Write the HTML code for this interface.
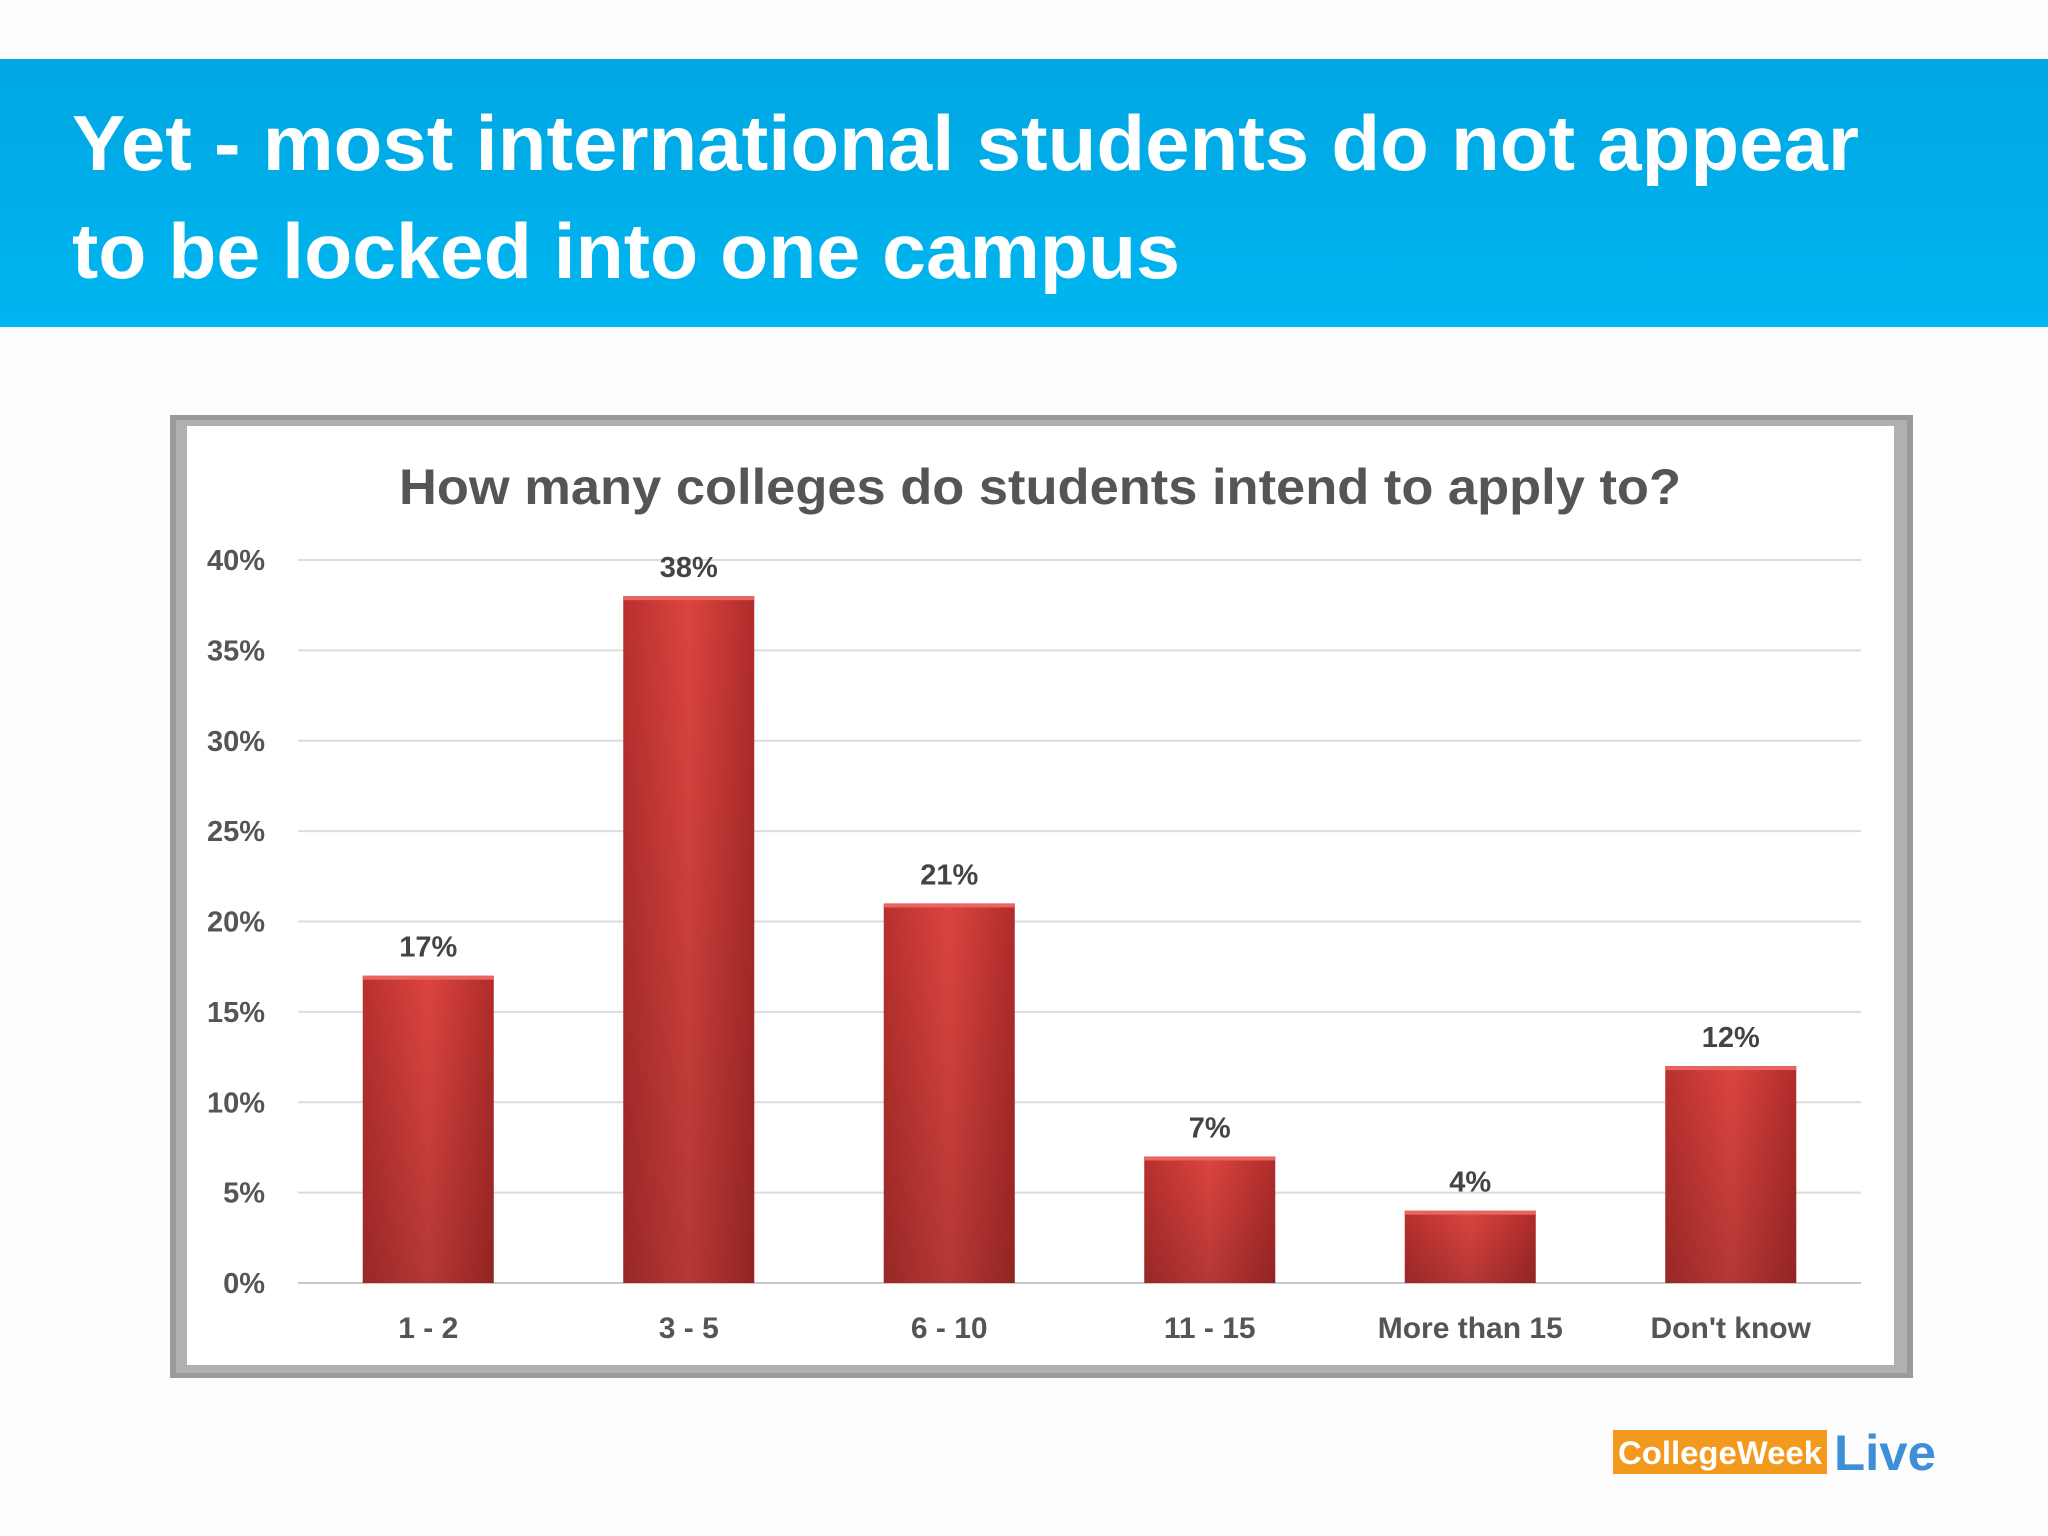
<!DOCTYPE html>
<html><head><meta charset="utf-8">
<style>
html,body{margin:0;padding:0;background:#fdfdfd;}
svg{display:block;font-family:"Liberation Sans",sans-serif;}
</style></head>
<body>
<svg id="chart" width="2048" height="1536" viewBox="0 0 2048 1536" xmlns="http://www.w3.org/2000/svg">
<defs>
<linearGradient id="hdr" x1="0" y1="0" x2="0" y2="1">
<stop offset="0" stop-color="#00a6e2"/><stop offset="1" stop-color="#00b6f0"/></linearGradient>
<linearGradient id="bar" x1="0" y1="0" x2="1" y2="0">
<stop offset="0" stop-color="#b8302e"/><stop offset="0.5" stop-color="#dc4440"/><stop offset="1" stop-color="#b02c2a"/></linearGradient>
<linearGradient id="barv" x1="0" y1="0" x2="0" y2="1">
<stop offset="0" stop-color="#000" stop-opacity="0"/><stop offset="1" stop-color="#000" stop-opacity="0.18"/></linearGradient>
</defs>
<rect x="0" y="59" width="2048" height="268" fill="url(#hdr)"/>
<text x="72" y="170" font-size="78" font-weight="bold" fill="#fff" textLength="1787" lengthAdjust="spacingAndGlyphs">Yet - most international students do not appear</text>
<text x="72" y="278" font-size="78" font-weight="bold" fill="#fff" textLength="1108" lengthAdjust="spacingAndGlyphs">to be locked into one campus</text>

<rect x="170" y="415" width="1743" height="963" fill="#9a9a9a"/>
<rect x="176" y="420" width="1731" height="953" fill="#b0b0b0"/>
<rect x="187" y="426" width="1707" height="939" fill="#fff"/>
<text x="1040" y="504" font-size="50" font-weight="bold" fill="#555" text-anchor="middle" textLength="1282" lengthAdjust="spacingAndGlyphs">How many colleges do students intend to apply to?</text>
<g id="plot"></g>

<g>
<rect x="1613" y="1430" width="214" height="44" fill="#f39a1e"/>
<text x="1720" y="1464" font-size="32" font-weight="bold" fill="#fff" text-anchor="middle" textLength="204" lengthAdjust="spacingAndGlyphs">CollegeWeek</text>
<text x="1834" y="1470" font-size="50" font-weight="bold" fill="#3d8fd6" textLength="102" lengthAdjust="spacingAndGlyphs">Live</text>
</g>
</svg>
<script>
const categories = ["1 - 2","3 - 5","6 - 10","11 - 15","More than 15","Don't know"];
const values = [17,38,21,7,4,12];
const ticks = [0,5,10,15,20,25,30,35,40];
const tickLabels = ["0%","5%","10%","15%","20%","25%","30%","35%","40%"];

const NS="http://www.w3.org/2000/svg";
const plot=document.getElementById('plot');
const x0=298,x1=1861,yBase=1283,yTop=560,yMax=40;
const band=(x1-x0)/categories.length;
const yScale=v=>yBase-(v/yMax)*(yBase-yTop);
const xCenter=i=>x0+band*(i+0.5);
function mk(tag,attrs){const e=document.createElementNS(NS,tag);for(const k in attrs)e.setAttribute(k,attrs[k]);plot.appendChild(e);return e;}
ticks.forEach((t,i)=>{
  const y=yScale(t);
  const l=mk('line',{x1:x0,x2:x1,y1:y,y2:y,stroke:i===0?'#c8c8c8':'#dcdcdc','stroke-width':2});
  
  
  const tx=mk('text',{x:265,y:y+10,'font-size':29,'font-weight':'bold',fill:'#555','text-anchor':'end'});
  tx.textContent=tickLabels[i];
  
  
});
const bw=131;
values.forEach((v,i)=>{
  const cx=xCenter(i),y=yScale(v);
  const r=mk('rect',{x:cx-bw/2,y:y,width:bw,height:yBase-y,fill:'url(#bar)'});
  
  
  mk('rect',{x:cx-bw/2,y:y,width:bw,height:yBase-y,fill:'url(#barv)'});
  mk('rect',{x:cx-bw/2,y:y,width:bw,height:4,fill:'#e86560'});
  const lt=mk('text',{x:cx,y:y-19,'font-size':29,'font-weight':'bold',fill:'#444','text-anchor':'middle'});
  lt.textContent=v+'%';
  
  
  const ct=mk('text',{x:cx,y:1338,'font-size':30,'font-weight':'bold',fill:'#555','text-anchor':'middle'});
  ct.textContent=categories[i];
  
  
});
</script>
</body></html>
